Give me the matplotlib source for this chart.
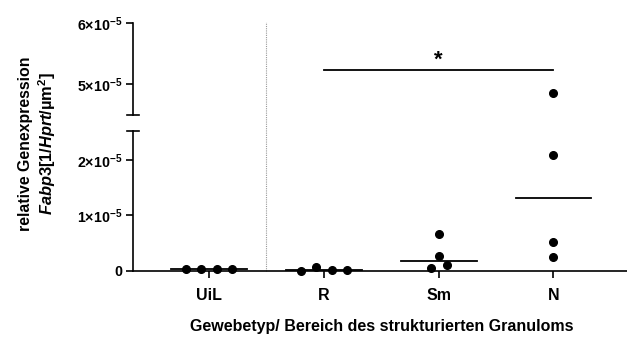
import matplotlib
matplotlib.use("Agg")
import matplotlib.pyplot as plt
import matplotlib.transforms as mtransforms
import numpy as np

plt.rcParams["font.family"] = ["Liberation Sans", "DejaVu Sans"]
plt.rcParams["font.weight"] = "bold"
plt.rcParams["mathtext.fontset"] = "custom"
plt.rcParams["mathtext.rm"] = "Liberation Sans:bold"
plt.rcParams["mathtext.bf"] = "Liberation Sans:bold"
plt.rcParams["mathtext.it"] = "Liberation Sans:italic:bold"
plt.rcParams["mathtext.sf"] = "Liberation Sans"
plt.rcParams["mathtext.default"] = "bf"

# data (x 1e-5)
groups = ["UiL", "R", "Sm", "N"]
uil = [0.03, 0.04, 0.03, 0.03]
r = [0.00, 0.08, 0.02, 0.02]
sm = [0.66, 0.27, 0.06, 0.10]
n = [4.85, 2.09, 0.53, 0.25]
values = [uil, r, sm, n]
# horizontal spread of overlapping dots
spread = [[-0.20, -0.07, 0.07, 0.20],
          [-0.20, -0.07, 0.07, 0.20],
          [0.0, 0.0, -0.065, 0.07],
          [0.0, 0.0, 0.0, 0.0]]

low_ticks = [0, 1e-5, 2e-5]
low_labels = ["0", r"$1{\times}10^{-5}$", r"$2{\times}10^{-5}$"]
up_ticks = [5e-5, 6e-5]
up_labels = [r"$5{\times}10^{-5}$", r"$6{\times}10^{-5}$"]
low_lim = (0, 2.52e-5)
up_lim = (4.49e-5, 6e-5)
sig_y = 5.23e-5

W, H = 627, 338
fig = plt.figure(figsize=(W / 100, H / 100), dpi=100)
left = 133 / W
ax_lo = fig.add_axes([left, 1 - 271 / H, 1 - left, (271 - 131) / H])
ax_up = fig.add_axes([left, 1 - 115 / H, 1 - left, (115 - 23) / H])

lw = 1.2
for ax in (ax_lo, ax_up):
    ax.set_xlim(-0.66, 3.64)
    for s in ("top", "right"):
        ax.spines[s].set_visible(False)
    for s in ("left", "bottom"):
        ax.spines[s].set_linewidth(lw)
    ax.tick_params(axis="y", width=lw, length=5, labelsize=10.3, pad=3)
    ax.patch.set_alpha(0)

ax_lo.set_ylim(*low_lim)
ax_up.set_ylim(*up_lim)
ax_up.spines["bottom"].set_visible(False)
ax_up.set_xticks([])
ax_lo.set_xticks(range(len(groups)))
ax_lo.set_xticklabels(groups, fontsize=11.5)
ax_lo.tick_params(axis="x", width=lw, length=5, pad=7)
ax_lo.set_yticks(low_ticks)
ax_lo.set_yticklabels(low_labels)
ax_up.set_yticks(up_ticks)
ax_up.set_yticklabels(up_labels)

# axis break caps
ax_up.plot([-0.012, 0.012], [0, 0], transform=ax_up.transAxes, color="black", lw=lw, clip_on=False)
ax_lo.plot([-0.012, 0.012], [1, 1], transform=ax_lo.transAxes, color="black", lw=lw, clip_on=False)

for i, (vals, dx) in enumerate(zip(values, spread)):
    v = np.array(vals) * 1e-5
    x = i + np.array(dx)
    lo = v <= low_lim[1]
    hi = v >= up_lim[0]
    ax_lo.plot(x[lo], v[lo], "o", color="black", ms=5.5, clip_on=False, zorder=3)
    ax_up.plot(x[hi], v[hi], "o", color="black", ms=5.5, clip_on=False, zorder=3)
    med = np.median(v)
    ax_lo.plot([i - 0.33, i + 0.33], [med, med], color="black", lw=1.3, clip_on=False, zorder=2)

# dotted separator between UiL and R
trans = mtransforms.blended_transform_factory(ax_lo.transData, ax_lo.transAxes)
ax_lo.plot([0.5, 0.5], [0, (271 - 22) / 140], transform=trans, color="#999999",
           lw=0.8, ls=(0, (1, 1)), clip_on=False, zorder=1)

# significance bar R vs N
ax_up.plot([1, 3], [sig_y, sig_y], color="black", lw=1.3)
ax_up.text(2, sig_y - 0.02e-5, "*", ha="center", va="bottom", fontsize=16, fontweight="bold")

fig.text(190 / W + (573 - 190) / 2 / W, 1 - 327 / H, "Gewebetyp/ Bereich des strukturierten Granuloms",
         ha="center", va="center", fontsize=11.5, fontweight="bold")
fig.text(26 / W, 1 - 144 / H, "relative Genexpression", rotation=90, ha="center", va="center",
         fontsize=11.4, fontweight="bold")
fig.text(47 / W, 1 - 143 / H, r"$\mathit{Fabp3}\mathsf{[1/}\mathit{Hprt}\mathsf{/µm^{2}]}$",
         rotation=90, ha="center", va="center", fontsize=11.8)

fig.savefig("out.png", dpi=100)
